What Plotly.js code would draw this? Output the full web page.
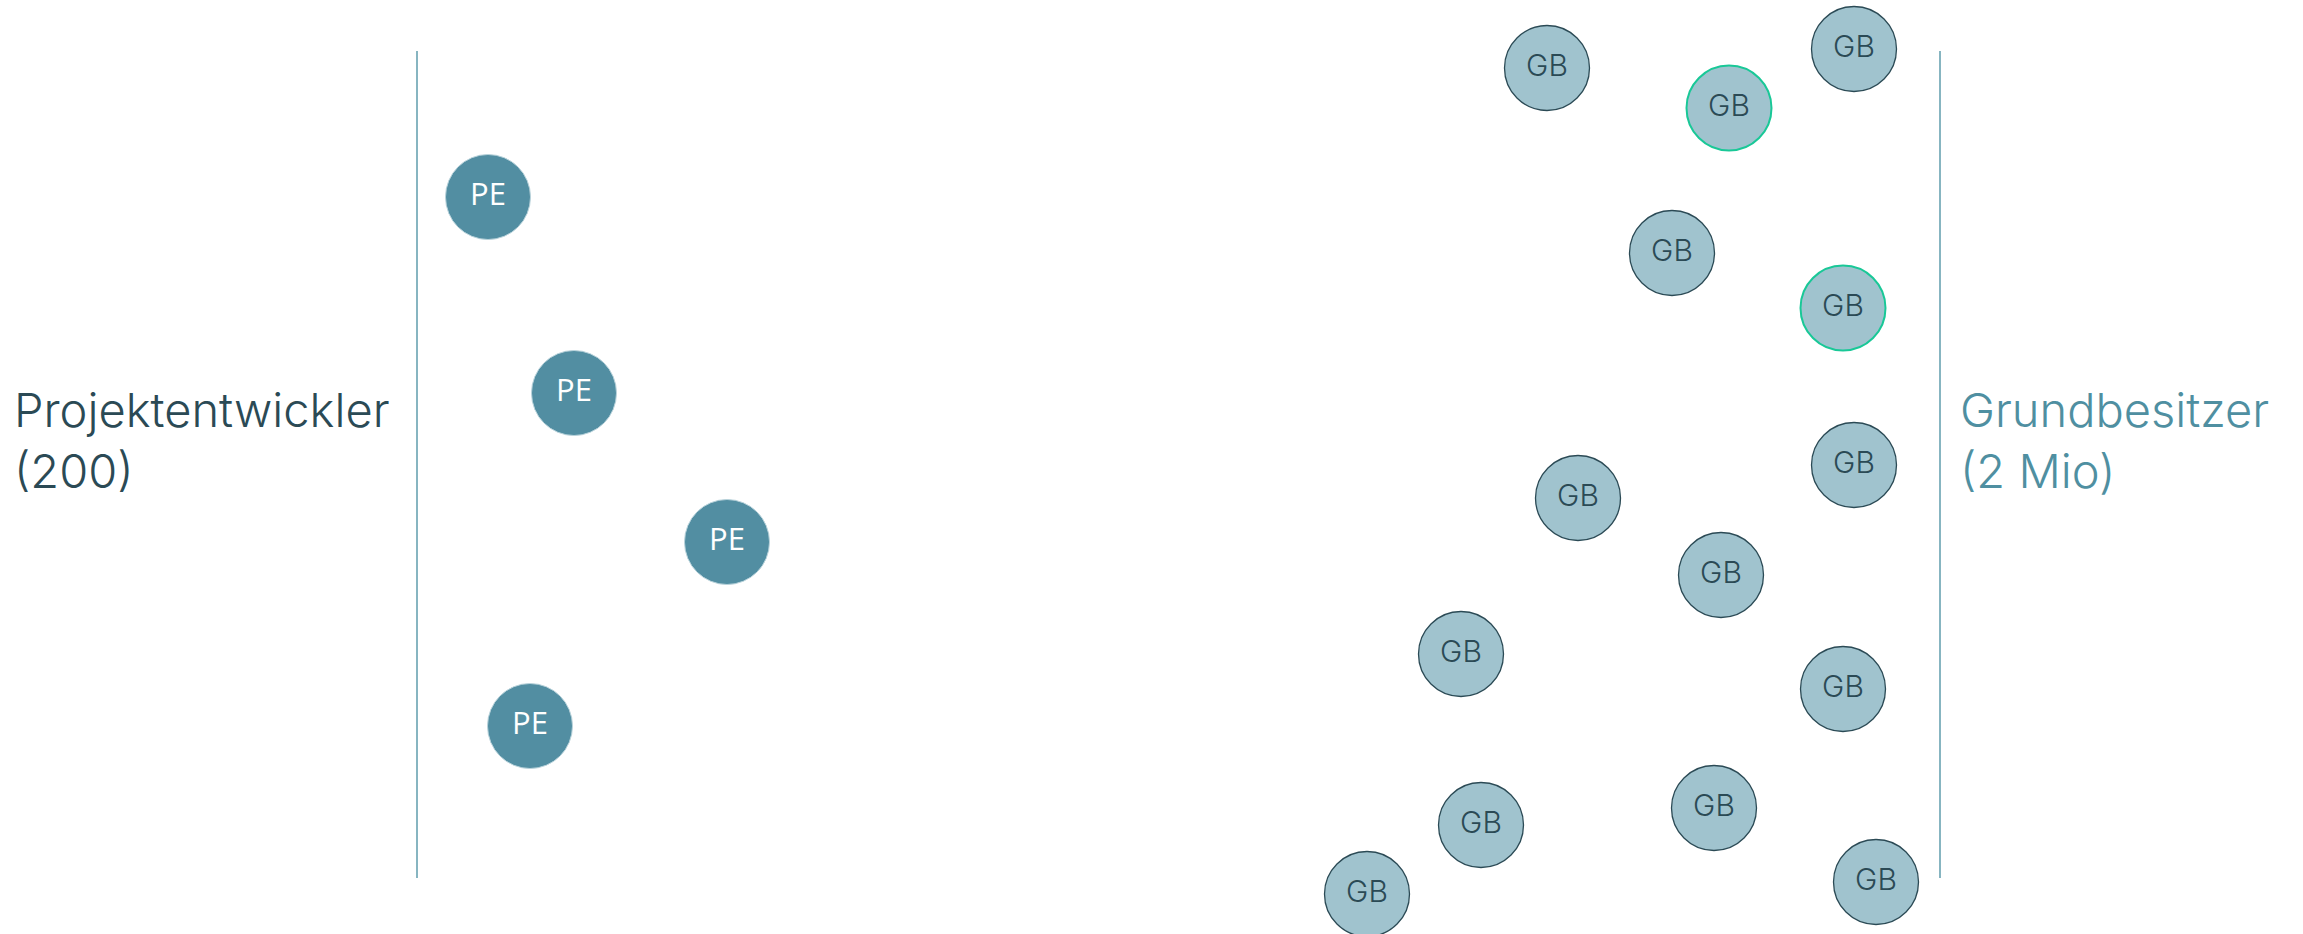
<!DOCTYPE html>
<html>
<head>
<meta charset="utf-8">
<script src="https://cdn.plot.ly/plotly-3.0.1.min.js"></script>
<style>html,body{margin:0;padding:0;background:#fff;}#chart{width:2303px;height:934px;}</style>
</head>
<body>
<div id="chart"></div>
<script>
// Project developers (PE)
const peLabels = ["PE", "PE", "PE", "PE"];
const peX = [488, 574, 727, 530];
const peY = [197, 393, 542, 726];

// Land owners (GB)
const gbLabels = ["GB","GB","GB","GB","GB","GB","GB","GB","GB","GB","GB","GB","GB","GB"];
const gbX = [1547, 1729, 1854, 1672, 1843, 1854, 1578, 1721, 1461, 1843, 1481, 1714, 1367, 1876];
const gbY = [68, 108, 49, 253, 308, 465, 498, 575, 654, 689, 825, 808, 894, 882];
const gbHighlight = [false, true, false, false, true, false, false, false, false, false, false, false, false, false];

// Group divider lines
const leftLineX = [417, 417];
const rightLineX = [1940, 1940];
const lineY = [51, 878];

// Group labels
const leftLabel = "Projektentwickler<br>(200)";
const rightLabel = "Grundbesitzer<br>(2 Mio)";

const traces = [
  {x: leftLineX, y: lineY, mode: "lines", line: {color: "#5f9cad", width: 1.5}, hoverinfo: "skip"},
  {x: rightLineX, y: lineY, mode: "lines", line: {color: "#5f9cad", width: 1.5}, hoverinfo: "skip"},
  {
    x: peX, y: peY, text: peLabels, mode: "markers+text", textposition: "middle center",
    marker: {size: 85, color: "#528ea2", line: {color: "#b9d3db", width: 1}},
    textfont: {family: "Open Sans, sans-serif", size: 31, color: "#ffffff", weight: 500},
    hoverinfo: "skip"
  },
  {
    x: gbX, y: gbY, text: gbLabels, mode: "markers+text", textposition: "middle center",
    marker: {size: 85, color: "#a0c3ce",
      line: {color: gbHighlight.map(h => h ? "#19c897" : "#2b4a55"), width: gbHighlight.map(h => h ? 2 : 1.3)}},
    textfont: {family: "Inter, Lato, sans-serif", size: 30, color: "#2b4a55", weight: 300},
    hoverinfo: "skip"
  }
];

const layout = {
  width: 2303, height: 934,
  margin: {l: 0, r: 0, t: 0, b: 0},
  paper_bgcolor: "#ffffff", plot_bgcolor: "#ffffff",
  showlegend: false,
  xaxis: {range: [0, 2303], visible: false, fixedrange: true},
  yaxis: {range: [934, 0], visible: false, fixedrange: true},
  annotations: [
    {x: 12, y: 440, xref: "x", yref: "y", text: leftLabel, showarrow: false, xanchor: "left", yanchor: "middle", align: "left",
     font: {family: "Inter, Lato, sans-serif", size: 47, color: "#2b4a55", weight: 300}},
    {x: 1958, y: 440, xref: "x", yref: "y", text: rightLabel, showarrow: false, xanchor: "left", yanchor: "middle", align: "left",
     font: {family: "Inter, Lato, sans-serif", size: 47, color: "#4f8fa1", weight: 300}}
  ]
};

Plotly.newPlot("chart", traces, layout, {displayModeBar: false, staticPlot: true});
</script>
</body>
</html>
